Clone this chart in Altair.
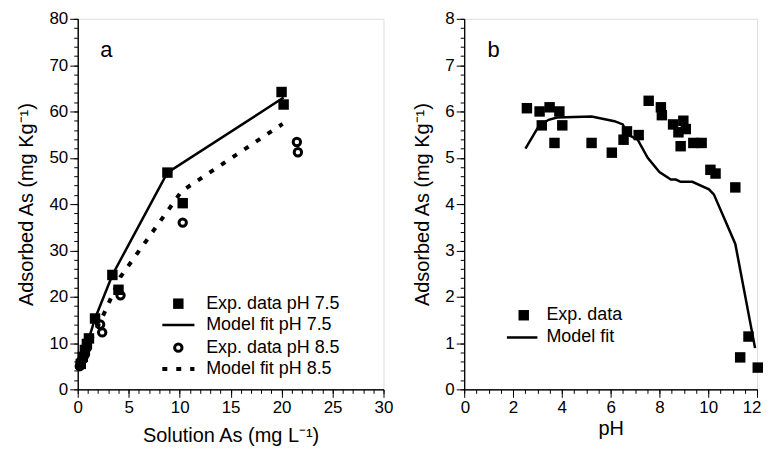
import altair as alt
import pandas as pd

FONT = "Liberation Sans"

# ---------------- Panel a: adsorption isotherms ----------------
series_a = ["Exp. data pH 7.5", "Model fit pH 7.5", "Exp. data pH 8.5", "Model fit pH 8.5"]
exp75_x = [0.3, 0.5, 0.7, 0.9, 1.1, 1.7, 3.4, 4.0, 8.8, 10.3, 20.0, 20.2]
exp75_y = [5.5, 7.0, 8.5, 9.8, 11.0, 15.3, 24.7, 21.5, 46.8, 40.2, 64.2, 61.5]
exp85_x = [0.2, 0.3, 0.5, 0.7, 0.9, 2.2, 2.4, 4.2, 10.3, 21.5, 21.6]
exp85_y = [5.0, 6.0, 6.5, 7.5, 9.0, 14.0, 12.3, 20.3, 36.0, 53.4, 51.2]
fit75_x = [0.3, 0.7, 1.1, 1.7, 3.4, 8.8, 20.2]
fit75_y = [5.5, 8.5, 11.0, 15.3, 24.7, 46.8, 63.0]
fit85_x = [0.2, 0.5, 0.9, 2.4, 4.2, 10.2, 20.1]
fit85_y = [5.0, 6.5, 9.0, 15.5, 24.3, 42.8, 57.3]
# legend anchor rows (data units of panel a)
leg_a_y = [18.5, 13.9, 9.0, 4.4]
leg_a_sym_x = 9.87
leg_a_line = [8.3, 11.45]
leg_a_text_x = 12.6

# ---------------- Panel b: pH envelope ----------------
series_b = ["Exp. data", "Model fit"]
exp_ph = [2.57, 3.09, 3.50, 3.90, 3.18, 4.02, 3.70, 5.22, 6.05, 6.53, 6.67, 7.15, 7.56, 8.06,
          8.10, 8.56, 8.98, 8.78, 9.08, 8.87, 9.39, 9.73, 10.09, 10.30, 11.11, 11.65, 11.31, 12.03]
exp_ads = [6.07, 6.00, 6.09, 6.00, 5.70, 5.70, 5.32, 5.32, 5.11, 5.39, 5.57, 5.49, 6.23, 6.09,
           5.92, 5.72, 5.80, 5.55, 5.62, 5.25, 5.32, 5.32, 4.74, 4.66, 4.36, 1.14, 0.69, 0.47]
fit_ph = [2.51, 3.05, 3.46, 3.80, 5.22, 6.16, 6.50, 6.70, 7.11, 7.52, 8.00, 8.47, 8.67, 8.87,
          9.35, 10.03, 10.23, 10.70, 11.11, 11.92]
fit_ads = [5.20, 5.68, 5.82, 5.87, 5.89, 5.79, 5.72, 5.50, 5.39, 5.00, 4.69, 4.53, 4.53, 4.48,
           4.48, 4.32, 4.21, 3.64, 3.14, 0.89]
leg_b_y = [1.60, 1.12]
leg_b_sym_x = 2.44
leg_b_line = [1.75, 3.0]
leg_b_text_x = 3.37

# tick values
a_x_major = [0, 5, 10, 15, 20, 25, 30]
a_x_minor = list(range(0, 31))
a_y_major = [0, 10, 20, 30, 40, 50, 60, 70, 80]
a_y_minor = list(range(0, 81, 2))
b_x_major = [0, 2, 4, 6, 8, 10, 12]
b_x_minor = [i * 0.5 for i in range(25)]
b_y_major = [0, 1, 2, 3, 4, 5, 6, 7, 8]
b_y_minor = [round(i * 0.2, 1) for i in range(41)]

Y_TITLE = "Adsorbed As (mg Kg\u207b\u00b9)"
SQ_SIZE = 110
CI_SIZE = 55


def major_axis(values, title, orient, tpad, flush=False):
    kw = dict(labelFlush=True, labelFlushOffset=4) if flush else dict(labelFlush=False)
    return alt.Axis(
        values=values, title=title, orient=orient, format="d", grid=False,
        tickSize=8, labelOverlap=False,
        labelFont=FONT, labelFontSize=17, labelColor="black", labelPadding=2,
        titleFont=FONT, titleFontSize=20, titleFontWeight="normal", titleColor="black",
        titlePadding=tpad, domainColor="black", tickColor="black", tickWidth=1, **kw,
    )


def minor_axis(values, orient):
    return alt.Axis(
        values=values, title=None, orient=orient, labels=False, grid=False,
        tickSize=4, domainColor="black", tickColor="black", tickWidth=1,
    )


def panel(xs, ys, major_x, minor_x, major_y, minor_y, xtitle, xtpad, flush,
          layers_fn, w, h):
    sx = alt.Scale(domain=xs, nice=False, zero=False)
    sy = alt.Scale(domain=ys, nice=False, zero=False)
    layers = layers_fn(sx, sy)
    base = pd.DataFrame({"x": [xs[0]], "y": [ys[0]]})
    major = alt.Chart(base).mark_point(opacity=0).encode(
        x=alt.X("x:Q", scale=sx, axis=major_axis(major_x, xtitle, "bottom", xtpad, flush)),
        y=alt.Y("y:Q", scale=sy, axis=major_axis(major_y, Y_TITLE, "left", 12)),
    )
    minor = alt.Chart(base).mark_point(opacity=0).encode(
        x=alt.X("x:Q", scale=sx, axis=minor_axis(minor_x, "bottom")),
        y=alt.Y("y:Q", scale=sy, axis=minor_axis(minor_y, "left")),
    )
    return alt.layer(major, minor, *layers).resolve_axis(
        x="independent", y="independent"
    ).properties(width=w, height=h)


def text_layer(df, sx, sy, size, align):
    return alt.Chart(df).mark_text(font=FONT, fontSize=size, color="black", align=align,
                                   baseline="middle").encode(
        x=alt.X("x:Q", scale=sx, axis=None), y=alt.Y("y:Q", scale=sy, axis=None), text="t:N"
    )


def squares(xv, yv, X, Y):
    return alt.Chart(pd.DataFrame({"x": xv, "y": yv})).mark_point(
        shape="square", filled=True, size=SQ_SIZE, color="black", opacity=1).encode(x=X(), y=Y())


def circles(xv, yv, X, Y):
    return alt.Chart(pd.DataFrame({"x": xv, "y": yv})).mark_point(
        shape="circle", filled=False, size=CI_SIZE, strokeWidth=3, color="black",
        opacity=1).encode(x=X(), y=Y())


def solid(xv, yv, X, Y):
    return alt.Chart(pd.DataFrame({"x": xv, "y": yv})).mark_line(
        color="black", strokeWidth=2.5).encode(x=X(), y=Y())


def dotted(xv, yv, X, Y):
    return alt.Chart(pd.DataFrame({"x": xv, "y": yv})).mark_line(
        color="black", strokeWidth=4, strokeDash=[5, 9], strokeCap="butt").encode(x=X(), y=Y())


def layers_a(sx, sy):
    X = lambda: alt.X("x:Q", scale=sx, axis=None)
    Y = lambda: alt.Y("y:Q", scale=sy, axis=None)
    out = [
        solid(fit75_x, fit75_y, X, Y),
        dotted(fit85_x, fit85_y, X, Y),
        squares(exp75_x, exp75_y, X, Y),
        circles(exp85_x, exp85_y, X, Y),
        # legend
        squares([leg_a_sym_x], [leg_a_y[0]], X, Y),
        solid(leg_a_line, [leg_a_y[1]] * 2, X, Y),
        circles([leg_a_sym_x], [leg_a_y[2]], X, Y),
        dotted(leg_a_line, [leg_a_y[3]] * 2, X, Y),
        text_layer(pd.DataFrame({"x": [leg_a_text_x] * 4, "y": leg_a_y, "t": series_a}),
                   sx, sy, 18, "left"),
        text_layer(pd.DataFrame({"x": [2.8], "y": [73.2], "t": ["a"]}), sx, sy, 22, "center"),
    ]
    return out


def layers_b(sx, sy):
    X = lambda: alt.X("x:Q", scale=sx, axis=None)
    Y = lambda: alt.Y("y:Q", scale=sy, axis=None)
    return [
        solid(fit_ph, fit_ads, X, Y),
        squares(exp_ph, exp_ads, X, Y),
        squares([leg_b_sym_x], [leg_b_y[0]], X, Y),
        solid(leg_b_line, [leg_b_y[1]] * 2, X, Y),
        text_layer(pd.DataFrame({"x": [leg_b_text_x] * 2, "y": leg_b_y, "t": series_b}),
                   sx, sy, 18, "left"),
        text_layer(pd.DataFrame({"x": [1.2], "y": [7.32], "t": ["b"]}), sx, sy, 22, "center"),
    ]


pa = panel([0, 30], [0, 80], a_x_major, a_x_minor, a_y_major, a_y_minor,
           "Solution As (mg L\u207b\u00b9)", 10, False, layers_a, 307, 372)
pb = panel([0, 12], [0, 8], b_x_major, b_x_minor, b_y_major, b_y_minor,
           "pH", 3, True, layers_b, 294, 372)

chart = alt.hconcat(pa, pb, spacing=19).resolve_scale(
    x="independent", y="independent"
).properties(
    padding={"left": 8, "top": 0, "right": 0, "bottom": 0}
).configure_view(stroke="black", strokeWidth=1).configure(background="white")

chart.save("out.html", embed_options={"renderer": "svg", "actions": False})
